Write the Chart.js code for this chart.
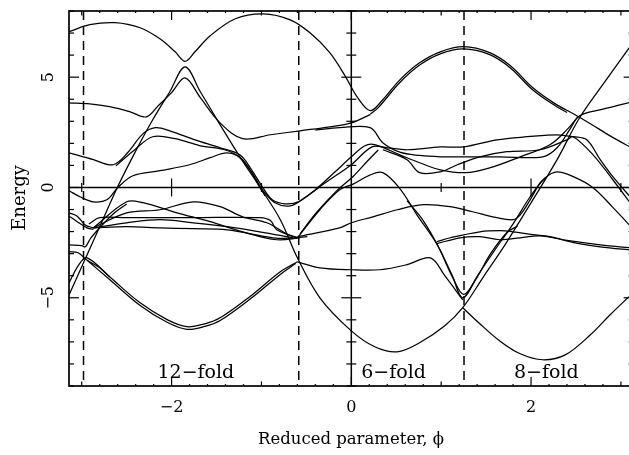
<!DOCTYPE html>
<html>
<head>
<meta charset="utf-8">
<script src="https://cdn.jsdelivr.net/npm/chart.js@4/dist/chart.umd.min.js"></script>
<style>
  html, body { margin: 0; padding: 0; background: #fff; }
</style>
</head>
<body>
<canvas id="bands" width="629" height="455"></canvas>
<script>
// Band energies, as [phi, E] pairs

const bandA = [[-3.14,7.06],[-2.91,7.38],[-2.63,7.47],[-2.35,7.24],[-2.13,6.74],[-1.96,6.15],[-1.85,5.72],[-1.74,6.15],[-1.57,6.88],[-1.29,7.65],[-0.98,7.87],[-0.68,7.60],[-0.46,7.01],[-0.24,6.11],[-0.07,5.06],[0.07,4.07],[0.21,3.48],[0.34,3.93],[0.54,4.88],[0.76,5.65],[0.99,6.15],[1.25,6.38],[1.54,6.11],[1.77,5.52],[2.02,4.52],[2.27,3.79],[2.47,3.34],[2.66,2.89],[2.88,2.34],[3.14,1.75]];
const bandA2 = [[0.21,3.32],[0.30,3.62],[0.54,4.76],[0.76,5.55],[0.99,6.06],[1.25,6.28],[1.54,6.02],[1.77,5.42],[2.02,4.42],[2.27,3.70],[2.40,3.40]];
const lineB = [[-3.14,-4.86],[-3.00,-3.59],[-2.80,-1.78],[-2.60,0.03],[-2.41,1.57],[-2.21,3.07],[-2.02,4.34],[-1.85,5.47],[-1.68,4.34],[-1.46,2.84],[-1.24,1.39],[-1.02,0.03],[-0.79,-1.46],[-0.60,-3.19],[-0.35,-5.0],[0,-6.50],[0.26,-7.22],[0.51,-7.45],[0.76,-7.04],[1.04,-6.27],[1.24,-5.45],[1.47,-4.05],[1.71,-2.60],[2.02,-0.56],[2.29,1.26],[2.54,3.16],[2.82,4.79],[3.14,6.6]];
const bandU1 = [[-3.14,3.84],[-2.91,3.79],[-2.69,3.66],[-2.46,3.43],[-2.28,3.20],[-2.15,3.70],[-2.00,4.30],[-1.85,4.97],[-1.68,4.07],[-1.46,2.93],[-1.21,2.21],[-0.90,2.39],[-0.57,2.57],[-0.24,2.75],[0,2.93],[0.21,3.30]];
const humpH1a = [[-3.14,1.57],[-2.87,1.26],[-2.65,1.03],[-2.48,1.62],[-2.32,2.43],[-2.18,2.71],[-2.02,2.57],[-1.74,2.16],[-1.46,1.80],[-1.24,1.48],[-1.11,0.80],[-0.99,0.03],[-0.88,-0.56],[-0.74,-0.74],[-0.59,-0.65],[-0.40,-0.10],[-0.18,0.71],[0,1.39],[0.15,1.89],[0.26,1.94],[0.54,1.48],[0.76,1.12],[0.99,0.80],[1.27,0.67],[1.54,0.89],[1.88,1.39],[2.21,1.94],[2.40,2.62],[2.52,3.20]];
const humpH1b = [[-2.62,0.98],[-2.41,1.71],[-2.21,2.30],[-1.96,2.21],[-1.68,1.89],[-1.41,1.71],[-1.24,1.35],[-1.07,0.44],[-0.99,-0.10],[-0.85,-0.69],[-0.68,-0.83],[-0.52,-0.47],[-0.29,0.21],[0,1.03],[0.23,1.84],[0.40,1.80],[0.62,1.71],[0.99,1.84],[1.25,1.84],[1.62,2.16],[1.96,2.30],[2.29,2.39],[2.47,2.30],[2.62,2.16],[2.77,1.26],[2.91,0.49],[3.14,-0.6]];
const bandG2 = [[-0.40,2.60],[-0.13,2.71],[0.21,2.71],[0.35,2.03],[0.54,1.60],[0.76,1.45],[0.99,1.39],[1.25,1.39],[1.65,1.39],[2.13,1.39],[2.29,1.80],[2.43,2.62],[2.54,3.25],[2.80,3.55],[3.14,3.90]];
const bandG3 = [[0.35,1.71],[0.62,1.26],[0.76,0.67],[0.99,0.71],[1.18,1.03],[1.43,1.39],[1.73,1.62],[2.10,1.71],[2.40,2.16],[2.47,2.30],[2.69,1.48],[2.91,0.35],[3.14,-0.9]];
const lineD1 = [[-3.14,-0.15],[-3.02,-0.42],[-2.87,-0.65],[-2.72,-0.56],[-2.60,-0.01],[-2.43,0.53],[-2.13,0.76],[-1.80,1.03],[-1.57,1.35],[-1.38,1.57],[-1.21,1.26],[-1.02,0.03],[-0.96,-0.38]];
const bandL1 = [[-3.14,-4.32],[-3.04,-3.55],[-2.94,-3.19],[-2.69,-4.05],[-2.35,-5.23],[-2.05,-5.99],[-1.83,-6.31],[-1.63,-6.18],[-1.46,-5.91],[-1.13,-4.95],[-0.79,-3.82],[-0.60,-3.37]];
const bandL1b = [[-2.94,-3.30],[-2.69,-4.17],[-2.35,-5.35],[-2.05,-6.11],[-1.83,-6.43],[-1.63,-6.30],[-1.46,-6.03],[-1.13,-5.07],[-0.79,-3.94],[-0.62,-3.45]];
const lineR5 = [[-0.60,-3.37],[-0.35,-3.64],[0,-3.73],[0.32,-3.73],[0.62,-3.50],[0.88,-3.19],[1.04,-4.0],[1.24,-5.1]];
const lineC = [[-0.59,-2.23],[-0.35,-1.01],[-0.13,-0.10],[0.02,0.15],[0.20,0.55],[0.35,0.67],[0.54,-0.05],[0.73,-1.24],[0.95,-2.55],[1.12,-3.96],[1.24,-5.0],[1.41,-3.96],[1.60,-2.82],[1.80,-1.65],[1.99,-0.42],[2.16,0.44],[2.29,0.71],[2.47,0.49],[2.69,-0.01],[2.91,-0.90],[3.14,-1.9]];
const lineC2 = [[0.62,-0.6],[0.80,-1.5],[0.97,-2.7],[1.13,-4.1],[1.25,-4.85],[1.38,-4.2],[1.55,-3.0],[1.73,-2.05],[1.85,-1.75]];
const lineR1 = [[-0.57,-2.1],[-0.38,-1.1],[-0.15,-0.1],[0.02,0.5],[0.18,1.2],[0.30,1.7]];
const fanE1 = [[-2.87,-1.83],[-2.50,-0.65],[-2.32,-0.69],[-1.94,-1.15],[-1.57,-1.55],[-1.21,-2.01],[-0.83,-2.37],[-0.57,-2.28]];
const fanE2 = [[-2.87,-1.83],[-2.50,-1.15],[-2.13,-1.01],[-1.76,-0.65],[-1.46,-0.87],[-1.21,-1.33],[-0.94,-1.60],[-0.65,-2.23],[-0.49,-2.23]];
const fanE3 = [[-2.92,-1.65],[-2.80,-1.37],[-2.50,-1.37],[-1.76,-1.37],[-1.02,-1.37],[-0.90,-1.50],[-0.83,-1.92],[-0.60,-2.28]];
const fanE4 = [[-2.87,-1.83],[-2.50,-1.60],[-2.13,-1.46],[-1.76,-1.60],[-1.38,-1.78],[-1.02,-2.01],[-0.65,-2.28]];
const fanE5 = [[-2.87,-1.83],[-2.50,-1.78],[-2.13,-1.83],[-1.76,-1.87],[-1.38,-1.92],[-0.87,-2.28],[-0.60,-2.30]];
const leftK1 = [[-3.14,-1.15],[-3.05,-1.30],[-2.96,-1.70],[-2.87,-1.83]];
const leftK2 = [[-3.14,-1.30],[-3.05,-1.55],[-2.94,-1.83],[-2.87,-1.90]];
const leftK3 = [[-3.14,-2.60],[-3.00,-2.64],[-2.96,-2.69],[-2.90,-2.30],[-2.80,-1.83],[-2.65,-1.2],[-2.50,-0.75]];
const leftK4 = [[-3.14,-2.91],[-3.04,-2.96],[-2.94,-3.30],[-2.80,-3.64],[-2.69,-4.05]];
const lineR2 = [[-0.60,-2.23],[-0.13,-1.83],[0,-1.60],[0.24,-1.33],[0.51,-1.01],[0.80,-0.78],[1.10,-0.87],[1.35,-1.10],[1.62,-1.37],[1.80,-1.46],[1.88,-1.24],[1.99,-0.56],[2.10,0.21],[2.16,0.44]];
const lineR3 = [[0.95,-2.55],[1.21,-2.28],[1.43,-2.23],[1.65,-2.37],[1.88,-2.28],[2.10,-2.20],[2.40,-2.40],[2.77,-2.60],[3.14,-2.75]];
const lineR4 = [[0.95,-2.46],[1.10,-2.28],[1.43,-2.01],[1.65,-1.96],[1.80,-2.01],[2.02,-2.14],[2.21,-2.23],[2.49,-2.51],[2.77,-2.69],[3.14,-2.85]];
const lineR6 = [[1.24,-5.45],[1.43,-6.18],[1.65,-6.95],[1.88,-7.54],[2.13,-7.81],[2.38,-7.59],[2.66,-6.68],[2.88,-5.77],[3.09,-4.95],[3.14,-4.75]];

const ALL_BANDS = [bandA, bandA2, lineB, bandU1, humpH1a, humpH1b, bandG2, bandG3, lineD1,
  bandL1, bandL1b, lineR5, lineC, lineC2, lineR1, fanE1, fanE2, fanE3, fanE4, fanE5,
  leftK1, leftK2, leftK3, leftK4, lineR2, lineR3, lineR4, lineR6];

// axes, guide lines, labels
const X_MIN = -Math.PI, X_MAX = 3.09;
const Y_MIN = -9, Y_MAX = 8;
const X_MAJOR = [-2, 0, 2];
const Y_MAJOR = [-5, 0, 5];
const DASH_PHI = [-2.98, -0.585, 1.254];
const FOLD_TEXT = ['12\u2212fold', '6\u2212fold', '8\u2212fold'];
const FOLD_PHI = [-1.73, 0.47, 2.17];
const FOLD_E = -8.63;

const SERIF = '"DejaVu Serif", "Liberation Serif", serif';
const fmt = v => (v < 0 ? '\u2212' : '') + Math.abs(v);

const frame = {
  id: 'frame',
  afterDatasetsDraw(chart) {
    const { ctx, chartArea: a, scales: { x, y } } = chart;
    const px = v => x.getPixelForValue(v), py = v => y.getPixelForValue(v);
    const xr = px(Math.PI), x0 = px(0), y0 = py(0);
    const seg = (x1, y1, x2, y2) => { ctx.beginPath(); ctx.moveTo(x1, y1); ctx.lineTo(x2, y2); ctx.stroke(); };
    ctx.save();
    ctx.strokeStyle = '#000';

    ctx.lineWidth = 1.5;
    ctx.setLineDash([9, 6]);
    DASH_PHI.forEach(v => seg(px(v), a.top, px(v), a.bottom));
    ctx.setLineDash([]);

    ctx.lineWidth = 1.5;
    seg(x0, a.top, x0, a.bottom);
    seg(a.left, y0, xr, y0);

    ctx.lineWidth = 1.7;
    ctx.strokeRect(a.left, a.top, xr - a.left, a.bottom - a.top);

    // inward ticks on the frame and on the zero lines
    ctx.lineWidth = 1.2;
    for (let k = -15; k <= 15; k++) {
      const v = k / 5;
      const big = X_MAJOR.includes(v), mid = Number.isInteger(v);
      const L = big ? 9 : mid ? 4.5 : 2;
      const p = px(v);
      seg(p, a.bottom, p, a.bottom - L);
      seg(p, a.top, p, a.top + L);
      if (mid && v !== 0) seg(p, y0 - L, p, y0 + L);
    }
    for (let v = Y_MIN; v <= Y_MAX; v++) {
      const L = Y_MAJOR.includes(v) ? 10 : 5;
      const p = py(v);
      seg(a.left, p, a.left + L, p);
      seg(xr, p, xr - L, p);
      if (v !== 0) seg(x0 - L, p, x0 + L, p);
    }
    ctx.restore();
  },
  afterDraw(chart) {
    const { ctx, scales: { x, y } } = chart;
    const px = v => x.getPixelForValue(v), py = v => y.getPixelForValue(v);
    ctx.save();
    ctx.fillStyle = '#000';

    ctx.font = '16px ' + SERIF;
    ctx.textAlign = 'center';
    ctx.textBaseline = 'alphabetic';
    X_MAJOR.forEach(v => ctx.fillText(fmt(v), px(v), 412));
    Y_MAJOR.forEach(v => {
      ctx.save();
      ctx.translate(53, py(v));
      ctx.rotate(-Math.PI / 2);
      ctx.fillText(fmt(v), 0, 0);
      ctx.restore();
    });

    ctx.font = '19px ' + SERIF;
    FOLD_TEXT.forEach((t, i) => ctx.fillText(t, px(FOLD_PHI[i]), py(FOLD_E)));

    ctx.font = '18px ' + SERIF;
    ctx.save();
    ctx.translate(25, 198);
    ctx.rotate(-Math.PI / 2);
    ctx.fillText('Energy', 0, 0);
    ctx.restore();

    ctx.font = '16.5px ' + SERIF;
    ctx.fillText('Reduced parameter, \u03D5', 351, 444);
    ctx.restore();
  }
};

new Chart(document.getElementById('bands'), {
  type: 'scatter',
  data: {
    datasets: ALL_BANDS.map(b => ({
      data: b.map(([x, y]) => ({ x, y })),
      showLine: true,
      pointRadius: 0,
      borderColor: '#000',
      borderWidth: 1.25,
      tension: 0.35,
      fill: false
    }))
  },
  options: {
    responsive: false,
    animation: false,
    events: [],
    layout: { padding: { left: 69, top: 11, right: 0, bottom: 69 } },
    scales: {
      x: { type: 'linear', min: X_MIN, max: X_MAX, display: false },
      y: { type: 'linear', min: Y_MIN, max: Y_MAX, display: false }
    },
    plugins: { legend: { display: false }, tooltip: { enabled: false } }
  },
  plugins: [frame]
});
</script>
</body>
</html>
